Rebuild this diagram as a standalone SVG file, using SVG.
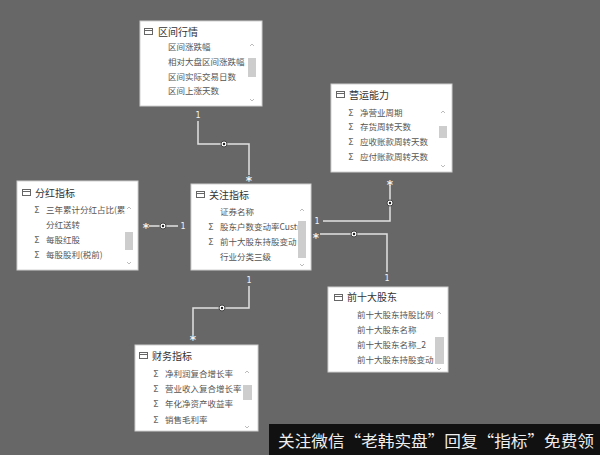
<svg xmlns="http://www.w3.org/2000/svg" width="600" height="455" viewBox="0 0 600 455">
<defs>
<style>
.bx{fill:#fff;stroke:#d0d0d0;stroke-width:1}
.tt{font-family:"Noto Sans CJK SC","Noto Sans",sans-serif;font-size:10px;fill:#333}
.rw{font-family:"Noto Sans CJK SC","Noto Sans",sans-serif;font-size:8.5px;fill:#555}
.sg{font-family:"DejaVu Sans",sans-serif;font-size:9px;fill:#666}
.th{fill:#cdcdcd}
.ar{fill:none;stroke:#aaa;stroke-width:0.8}
.cn{fill:none;stroke:#e2e2e2;stroke-width:1.5}
.lb{font-family:"DejaVu Sans",sans-serif;font-size:8px;fill:#f2f2f2}
.st{font-family:"DejaVu Sans",sans-serif;font-size:12px;fill:#f2f2f2;font-weight:bold}
.dt{fill:#fff;stroke:#444;stroke-width:1}
</style>
<symbol id="tbl" viewBox="0 0 9 7"><rect x="0.5" y="0.5" width="8" height="6" fill="none" stroke="#666"/><line x1="0.5" y1="2.5" x2="8.5" y2="2.5" stroke="#666"/></symbol>
</defs>
<rect width="600" height="455" fill="#676767"/>

<g id="connectors">
<polyline class="cn" points="198,121 198,144 249,144 249,175"/>
<polyline class="cn" points="390,185 390,221 323,221"/>
<polyline class="cn" points="320,234 387,234 387,272"/>
<polyline class="cn" points="149,226 178,226"/>
<polyline class="cn" points="249,286 249,308 193,308 193,335"/>
<circle class="dt" cx="224" cy="144" r="3"/><circle cx="224" cy="144" r="1.2" fill="#222"/>
<circle class="dt" cx="390" cy="203" r="3"/><circle cx="390" cy="203" r="1.2" fill="#222"/>
<circle class="dt" cx="354" cy="234" r="3"/><circle cx="354" cy="234" r="1.2" fill="#222"/>
<circle class="dt" cx="163" cy="226" r="3"/><circle cx="163" cy="226" r="1.2" fill="#222"/>
<circle class="dt" cx="222" cy="308" r="3"/><circle cx="222" cy="308" r="1.2" fill="#222"/>
<text class="lb" x="198" y="118" text-anchor="middle">1</text>
<text class="st" x="249" y="185" text-anchor="middle">*</text>
<text class="st" x="390" y="189" text-anchor="middle">*</text>
<text class="lb" x="317" y="224" text-anchor="middle">1</text>
<text class="st" x="316" y="242" text-anchor="middle">*</text>
<text class="lb" x="387" y="281" text-anchor="middle">1</text>
<text class="st" x="146" y="232" text-anchor="middle">*</text>
<text class="lb" x="183" y="229" text-anchor="middle">1</text>
<text class="lb" x="249" y="283" text-anchor="middle">1</text>
<text class="st" x="193" y="344" text-anchor="middle">*</text>
</g>

<g id="qujianhangqing">
<rect class="bx" x="140" y="21" width="122" height="85"/>
<use href="#tbl" x="144" y="28" width="9" height="7"/>
<text class="tt" x="158" y="36">区间行情</text>
<text class="rw" x="168" y="50">区间涨跌幅</text>
<text class="rw" x="168" y="65">相对大盘区间涨跌幅</text>
<text class="rw" x="168" y="80">区间实际交易日数</text>
<text class="rw" x="168" y="94">区间上涨天数</text>
<rect class="th" x="248" y="58" width="8" height="19"/>
<polyline class="ar" points="250,46 252,44 254,46"/>
<polyline class="ar" points="250,99 252,101 254,99"/>
</g>

<g id="yingyunnengli">
<rect class="bx" x="331" y="84" width="121" height="88"/>
<use href="#tbl" x="336" y="91" width="9" height="7"/>
<text class="tt" x="349" y="99">营运能力</text>
<text class="sg" x="348" y="116">Σ</text><text class="rw" x="360" y="116">净营业周期</text>
<text class="sg" x="348" y="130">Σ</text><text class="rw" x="360" y="130">存货周转天数</text>
<text class="sg" x="348" y="145">Σ</text><text class="rw" x="360" y="145">应收账款周转天数</text>
<text class="sg" x="348" y="160">Σ</text><text class="rw" x="360" y="160">应付账款周转天数</text>
<rect class="th" x="439" y="126" width="8" height="12"/>
<polyline class="ar" points="441,113 443,111 445,113"/>
<polyline class="ar" points="441,165 443,167 445,165"/>
</g>

<g id="fenhongzhibiao">
<rect class="bx" x="17" y="181" width="121" height="89"/>
<use href="#tbl" x="22" y="189" width="9" height="7"/>
<text class="tt" x="35" y="197">分红指标</text>
<text class="sg" x="34" y="213">Σ</text><text class="rw" x="46" y="213">三年累计分红占比(累</text>
<text class="rw" x="46" y="228">分红送转</text>
<text class="sg" x="34" y="243">Σ</text><text class="rw" x="46" y="243">每股红股</text>
<text class="sg" x="34" y="258">Σ</text><text class="rw" x="46" y="258">每股股利(税前)</text>
<rect class="th" x="125" y="232" width="8" height="18"/>
<polyline class="ar" points="127,209 129,207 131,209"/>
<polyline class="ar" points="127,262 129,264 131,262"/>
</g>

<g id="guanzhuzhibiao">
<rect class="bx" x="191" y="184" width="120" height="86"/>
<use href="#tbl" x="196" y="191" width="9" height="7"/>
<text class="tt" x="209" y="199">关注指标</text>
<text class="rw" x="220" y="215">证券名称</text>
<text class="sg" x="208" y="230">Σ</text><text class="rw" x="220" y="230">股东户数变动率Custr</text>
<text class="sg" x="208" y="245">Σ</text><text class="rw" x="220" y="245">前十大股东持股变动</text>
<text class="rw" x="220" y="260">行业分类三级</text>
<rect class="th" x="298" y="221" width="8" height="37"/>
<polyline class="ar" points="300,211 302,209 304,211"/>
<polyline class="ar" points="300,264 302,266 304,264"/>
</g>

<g id="qianshidagudong">
<rect class="bx" x="328" y="287" width="120" height="85"/>
<use href="#tbl" x="334" y="294" width="9" height="7"/>
<text class="tt" x="347" y="301">前十大股东</text>
<text class="rw" x="357" y="318">前十大股东持股比例</text>
<text class="rw" x="357" y="333">前十大股东名称</text>
<text class="rw" x="357" y="348">前十大股东名称_2</text>
<text class="rw" x="357" y="363">前十大股东持股变动</text>
<rect class="th" x="435" y="337" width="9" height="27"/>
<polyline class="ar" points="437,314 439,312 441,314"/>
<polyline class="ar" points="437,368 439,370 441,368"/>
</g>

<g id="caiwuzhibiao">
<rect class="bx" x="135" y="345" width="123" height="86"/>
<use href="#tbl" x="139" y="352" width="9" height="7"/>
<text class="tt" x="152" y="360">财务指标</text>
<text class="sg" x="153" y="377">Σ</text><text class="rw" x="165" y="377">净利润复合增长率</text>
<text class="sg" x="153" y="392">Σ</text><text class="rw" x="165" y="392">营业收入复合增长率</text>
<text class="sg" x="153" y="407">Σ</text><text class="rw" x="165" y="407">年化净资产收益率</text>
<text class="sg" x="153" y="423">Σ</text><text class="rw" x="165" y="423">销售毛利率</text>
<rect class="th" x="243" y="385" width="9" height="15"/>
<polyline class="ar" points="245,373 247,371 249,373"/>
<polyline class="ar" points="245,426 247,428 249,426"/>
</g>

<g id="watermark">
<rect x="269" y="424" width="331" height="31" fill="#111"/>
<text x="278" y="447" font-family="Noto Sans CJK SC, sans-serif" font-size="16" fill="#eee" textLength="316" lengthAdjust="spacingAndGlyphs">关注微信“老韩实盘”回复“指标”免费领</text>
</g>
</svg>
